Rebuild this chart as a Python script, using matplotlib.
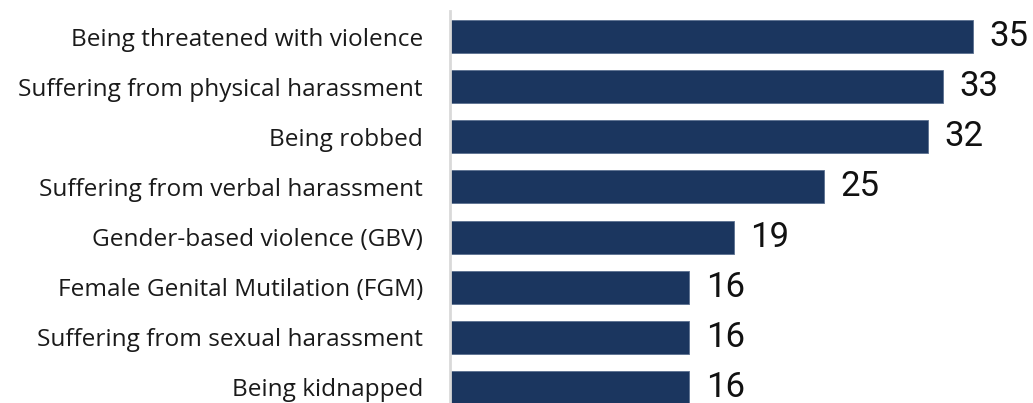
import matplotlib
matplotlib.use("Agg")
import matplotlib.pyplot as plt

plt.rcParams['font.family'] = ['Open Sans', 'DejaVu Sans']

categories = [
    "Being threatened with violence",
    "Suffering from physical harassment",
    "Being robbed",
    "Suffering from verbal harassment",
    "Gender-based violence (GBV)",
    "Female Genital Mutilation (FGM)",
    "Suffering from sexual harassment",
    "Being kidnapped",
]
values = [35, 33, 32, 25, 19, 16, 16, 16]

BAR_COLOR = "#1b365f"

fig = plt.figure(figsize=(10.33, 4.03), dpi=100)
ax = fig.add_axes([450 / 1033, 0, 1 - 450 / 1033, 1 - 11 / 403])

pos = list(range(len(categories)))
ax.barh(pos, values, height=0.66, color=BAR_COLOR, edgecolor="#5a6f8f", linewidth=0.6)

# value labels sit just past the end of each bar
for y, v in zip(pos, values):
    ax.text(v + 1.1, y, f"{v}", va="center", ha="left", fontsize=25,
            family=['Roboto', 'DejaVu Sans'], color="#111111")

ax.set_xlim(0, 39)
ax.set_ylim(7.31, -0.51)
ax.set_yticks(pos)
ax.set_yticklabels(categories, fontsize=17.6, color="#1a1a1a")
ax.tick_params(axis="y", length=0, pad=19.5)
ax.set_xticks([])

for side in ("top", "right", "bottom"):
    ax.spines[side].set_visible(False)
ax.spines["left"].set_color("#d9d9d9")
ax.spines["left"].set_linewidth(2)

fig.savefig("out.png", dpi=100)
